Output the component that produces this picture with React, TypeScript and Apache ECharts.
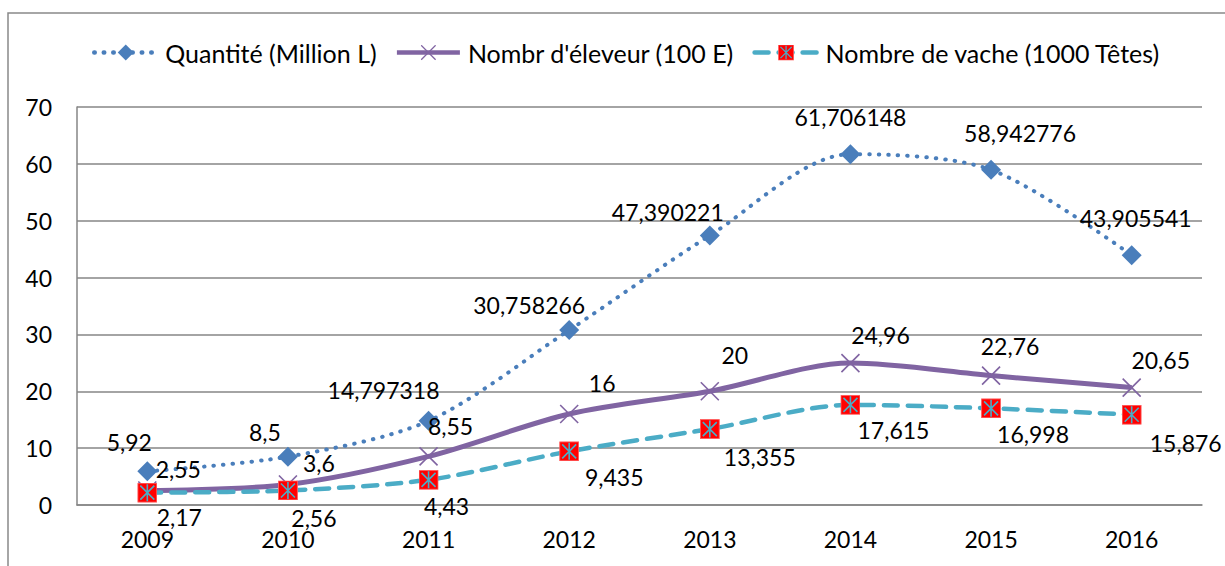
import React, { useEffect, useRef } from "react";
import * as echarts from "echarts";

const categories = ["2009", "2010", "2011", "2012", "2013", "2014", "2015", "2016"];
const quantite = [5.92, 8.5, 14.797318, 30.758266, 47.390221, 61.706148, 58.942776, 43.905541];
const eleveurs = [2.55, 3.6, 8.55, 16, 20, 24.96, 22.76, 20.65];
const vaches = [2.17, 2.56, 4.43, 9.435, 13.355, 17.615, 16.998, 15.876];
const yTicks = { min: 0, max: 70, interval: 10 };

const seriesNames = ["Quantité (Million L)", "Nombr d'éleveur (100 E)", "Nombre de vache (1000 Têtes)"];

// label offsets (style only)
const quantiteOffsets = [[-18, -29], [-23, -25], [-45, -31], [-40, -25], [-42, -24], [0, -37], [29, -37], [4, -37]];
const eleveurOffsets = [[31, -22], [31, -22], [22, -30], [33, -31], [25, -36], [30, -28], [19, -30], [29, -28]];
const vacheOffsets = [[32, 24], [26, 28], [18, 26], [45, 26], [50, 28], [43, 25], [42, 26], [54, 28]];

const FONT = "Lato";
const fmt = (v: number) => String(v).replace(".", ",");

const svgUri = (s: string) => "image://data:image/svg+xml;charset=utf-8," + encodeURIComponent(s);
const crossSymbol = svgUri(
  "<svg xmlns='http://www.w3.org/2000/svg' width='20' height='20' viewBox='0 0 20 20'><path d='M1,1L19,19M19,1L1,19' stroke='#8064A2' stroke-width='1.6' fill='none'/></svg>"
);
const vacheSymbol = svgUri(
  "<svg xmlns='http://www.w3.org/2000/svg' width='20' height='20' viewBox='0 0 20 20'><rect x='0.5' y='0.5' width='19' height='19' fill='#FF0000' stroke='#FF6060' stroke-width='1'/><path d='M3,3L17,17M17,3L3,17M10,1.5L10,18.5' stroke='#4BACC6' stroke-width='1.6' fill='none'/></svg>"
);

const labelStyle = { show: true, position: "inside", color: "#000", fontFamily: FONT, fontSize: 23, align: "center", verticalAlign: "middle" };

function mkData(vals: number[], offs: number[][]) {
  return vals.map((v, i) => ({ value: v, label: { offset: offs[i] } }));
}

export default function App() {
  const ref = useRef<HTMLDivElement>(null);
  useEffect(() => {
    if (!ref.current) return;
    const chart = echarts.init(ref.current, null, { renderer: "svg" });
    chart.setOption({
      animation: false,
      backgroundColor: "#fff",
      textStyle: { fontFamily: FONT },
      graphic: [
        {
          type: "rect",
          shape: { x: 8, y: 13, width: 1240, height: 600 },
          style: { fill: "none", stroke: "#898989", lineWidth: 1.5 },
          silent: true,
          z: -10,
        },
      ],
      legend: {
        left: 87,
        top: 35,
        itemWidth: 63,
        itemHeight: 20,
        itemGap: 18,
        lineStyle: { width: 4.5 },
        textStyle: { fontFamily: FONT, fontSize: 25, color: "#000", padding: [0, 0, 0, 3] },
        data: seriesNames,
      },
      grid: { left: 77, right: 23, top: 107, bottom: 61, containLabel: false },
      xAxis: {
        type: "category",
        data: categories,
        boundaryGap: true,
        axisLine: { lineStyle: { color: "#868686", width: 1.5 } },
        axisTick: { show: false },
        axisLabel: { color: "#000", fontFamily: FONT, fontSize: 23, margin: 22 },
      },
      yAxis: {
        type: "value",
        min: yTicks.min,
        max: yTicks.max,
        interval: yTicks.interval,
        axisLine: { show: true, lineStyle: { color: "#868686", width: 1.5 } },
        axisTick: { show: false },
        splitLine: { lineStyle: { color: "#868686", width: 1.5 } },
        axisLabel: { color: "#000", fontFamily: FONT, fontSize: 23, margin: 25 },
      },
      series: [
        {
          name: seriesNames[0],
          type: "line",
          smooth: 0.3,
          data: mkData(quantite, quantiteOffsets),
          symbol: "diamond",
          symbolSize: 20,
          itemStyle: { color: "#4A7EBB" },
          lineStyle: { color: "#4A7EBB", width: 4, type: [0.5, 9], cap: "round" },
          label: { ...labelStyle, formatter: (p: any) => fmt(p.value) },
          z: 2,
        },
        {
          name: seriesNames[1],
          type: "line",
          smooth: 0.3,
          data: mkData(eleveurs, eleveurOffsets),
          symbol: crossSymbol,
          symbolSize: 20,
          itemStyle: { color: "#8064A2" },
          lineStyle: { color: "#8064A2", width: 5 },
          label: { ...labelStyle, formatter: (p: any) => fmt(p.value) },
          z: 3,
        },
        {
          name: seriesNames[2],
          type: "line",
          smooth: 0.3,
          data: mkData(vaches, vacheOffsets),
          symbol: vacheSymbol,
          symbolSize: 20,
          itemStyle: { color: "#4BACC6" },
          lineStyle: { color: "#4BACC6", width: 4.5, type: [14, 10], cap: "round" },
          label: { ...labelStyle, formatter: (p: any) => fmt(p.value) },
          z: 4,
        },
      ],
    });
    return () => chart.dispose();
  }, []);
  return <div ref={ref} style={{ position: "fixed", left: 0, top: 0, width: 1225, height: 566 }} />;
}
